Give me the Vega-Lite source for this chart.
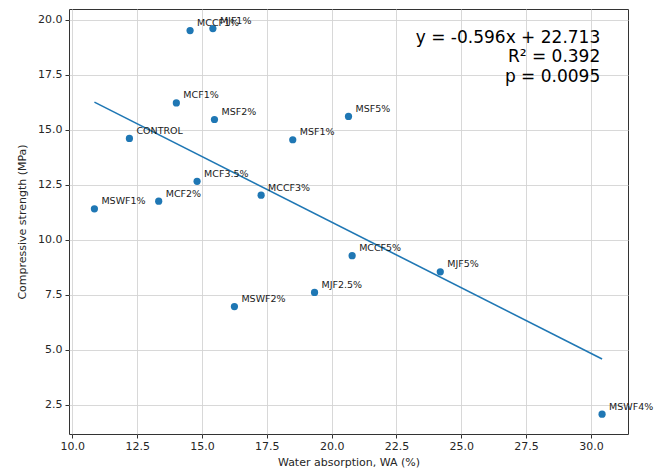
{
  "$schema": "https://vega.github.io/schema/vega-lite/v6.json",
  "autosize": "none",
  "width": 559,
  "height": 425,
  "padding": {"left": 69, "top": 9, "right": 37, "bottom": 41},
  "background": "white",
  "config": {
    "font": "DejaVu Sans",
    "view": {"stroke": "#333333", "strokeWidth": 1},
    "axis": {
      "grid": true,
      "gridColor": "#d4d4d4",
      "gridWidth": 0.9,
      "domain": false,
      "tickColor": "#333333",
      "tickSize": 4,
      "tickWidth": 1,
      "labelFont": "DejaVu Sans",
      "labelFontSize": 11,
      "labelColor": "#262626",
      "titleFont": "DejaVu Sans",
      "titleFontSize": 11,
      "titleFontWeight": "normal",
      "titleColor": "#262626"
    }
  },
  "datasets": {
    "points": [
      {"wa": 10.85, "cs": 11.40, "label": "MSWF1%"},
      {"wa": 12.20, "cs": 14.60, "label": "CONTROL"},
      {"wa": 13.33, "cs": 11.75, "label": "MCF2%"},
      {"wa": 14.01, "cs": 16.21, "label": "MCF1%"},
      {"wa": 14.54, "cs": 19.50, "label": "MCCF1%"},
      {"wa": 14.81, "cs": 12.65, "label": "MCF3.5%"},
      {"wa": 15.42, "cs": 19.59, "label": "MJF1%"},
      {"wa": 15.48, "cs": 15.46, "label": "MSF2%"},
      {"wa": 16.25, "cs": 6.96, "label": "MSWF2%"},
      {"wa": 17.28, "cs": 12.02, "label": "MCCF3%"},
      {"wa": 18.50, "cs": 14.54, "label": "MSF1%"},
      {"wa": 19.34, "cs": 7.60, "label": "MJF2.5%"},
      {"wa": 20.65, "cs": 15.60, "label": "MSF5%"},
      {"wa": 20.79, "cs": 9.27, "label": "MCCF5%"},
      {"wa": 24.19, "cs": 8.54, "label": "MJF5%"},
      {"wa": 30.43, "cs": 2.07, "label": "MSWF4%"}
    ],
    "fit": [
      {"wa": 10.85, "cs": 16.25},
      {"wa": 30.43, "cs": 4.58}
    ],
    "note": [
      {"wa": 30.36, "cs": 19.53, "text": "y = -0.596x + 22.713\nR² = 0.392\np = 0.0095"}
    ]
  },
  "encoding": {
    "x": {
      "field": "wa",
      "type": "quantitative",
      "scale": {"domain": [9.87, 31.43], "nice": false, "zero": false},
      "axis": {
        "title": "Water absorption, WA (%)",
        "values": [10, 12.5, 15, 17.5, 20, 22.5, 25, 27.5, 30],
        "format": ".1f",
        "labelPadding": 2,
        "titlePadding": 5
      }
    },
    "y": {
      "field": "cs",
      "type": "quantitative",
      "scale": {"domain": [1.17, 20.48], "nice": false, "zero": false},
      "axis": {
        "title": "Compressive strength (MPa)",
        "values": [2.5, 5, 7.5, 10, 12.5, 15, 17.5, 20],
        "format": ".1f",
        "labelPadding": 3,
        "titlePadding": 10
      }
    }
  },
  "layer": [
    {
      "data": {"name": "fit"},
      "mark": {"type": "line", "color": "#1f77b4", "strokeWidth": 1.6}
    },
    {
      "data": {"name": "points"},
      "mark": {"type": "circle", "color": "#1f77b4", "opacity": 1, "size": 52}
    },
    {
      "data": {"name": "points"},
      "mark": {"type": "text", "align": "left", "baseline": "alphabetic", "dx": 7, "dy": -4.5, "fontSize": 9.5, "color": "#1a1a1a", "font": "DejaVu Sans"},
      "encoding": {"text": {"field": "label"}}
    },
    {
      "data": {"name": "note"},
      "mark": {"type": "text", "align": "right", "baseline": "top", "fontSize": 17, "lineBreak": "\n", "lineHeight": 19.5, "color": "#000000", "font": "DejaVu Sans"},
      "encoding": {"text": {"field": "text"}}
    }
  ]
}
